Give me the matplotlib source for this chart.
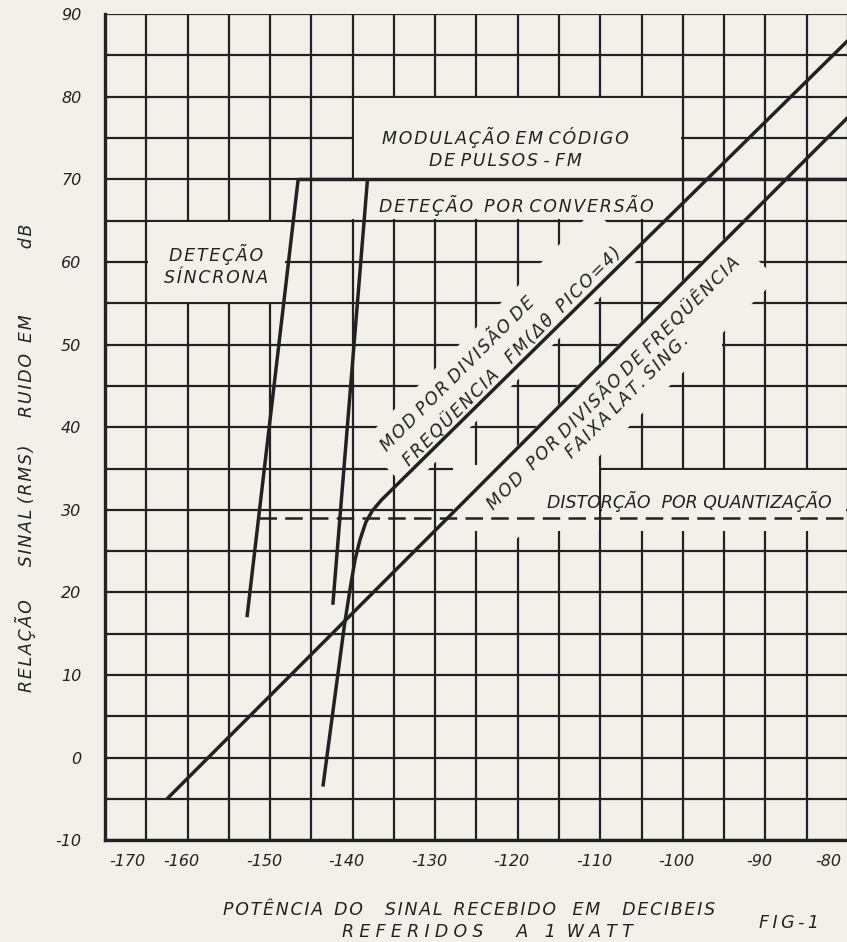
import matplotlib
matplotlib.use("Agg")
import matplotlib.pyplot as plt
import matplotlib.transforms as mtransforms
from matplotlib.patches import Rectangle
import numpy as np

# ---- data (dB) ----
x_ticks = [-170, -160, -150, -140, -130, -120, -110, -100, -90, -80]
x_labels = ['-170', '-160', '-150', '-140', '-130', '-120', '-110', '-100', '-90', '-80']
y_ticks = [-10, 0, 10, 20, 30, 40, 50, 60, 70, 80, 90]
y_labels = ['-10', '0', '10', '20', '30', '40', '50', '60', '70', '80', '90']

# detecao sincrona
sinc_x = [-152.8, -146.6]
sinc_y = [17.0, 70.0]
# detecao por conversao
conv_x = [-142.4, -138.2]
conv_y = [18.5, 70.0]
# limite PCM-FM (70 dB)
pcm_x = [-146.6, -80.0]
pcm_y = [70.0, 70.0]
# mod por divisao de frequencia FM (delta theta pico = 4)
fm_x = [-143.6, -141.0, -140.3, -139.7, -139.1, -138.4, -137.6, -136.5, -80.0]
fm_y = [-3.5, 16.0, 20.5, 24.0, 26.4, 28.5, 29.9, 31.2, 86.8]
# mod por divisao de frequencia faixa lat. sing.
ssb_x = [-162.5, -80.0]
ssb_y = [-5.0, 77.5]
# distorcao por quantizacao
quant_x = [-151.4, -80.0]
quant_y = [29.0, 29.0]

paper = '#f2f0e9'
ink = '#222222'

plt.rcParams['font.family'] = ['DejaVu Sans']
plt.rcParams['font.style'] = 'italic'


def spaced(s, sep='\u200a'):
    # letter spacing of the hand lettering (inside words only)
    return '\n'.join(' '.join(sep.join(w) for w in line.split(' '))
                     for line in s.split('\n'))


fig = plt.figure(figsize=(8.47, 9.42), dpi=100, facecolor=paper)
ax = fig.add_axes([0.124, 0.108, 0.877, 0.877])
ax.set_facecolor(paper)
ax.set_xlim(-170, -80)
ax.set_ylim(-10, 90)

# grid every 5 dB
ax.set_xticks(x_ticks)
ax.set_xticklabels(x_labels)
ax.set_yticks(y_ticks)
ax.set_yticklabels(y_labels)
ax.set_xticks(np.arange(-170, -79, 5), minor=True)
ax.set_yticks(np.arange(-10, 91, 5), minor=True)
ax.grid(which='both', color=ink, linewidth=1.6)
ax.set_axisbelow(True)
ax.tick_params(which='both', length=0)
ax.tick_params(axis='y', pad=17, labelsize=11.5, colors=ink)
ax.tick_params(axis='x', pad=10, labelsize=11.5, colors=ink)
for s in ['left', 'bottom']:
    ax.spines[s].set_linewidth(2.4)
    ax.spines[s].set_color(ink)
for s in ['top', 'right']:
    ax.spines[s].set_visible(False)

# shift the end labels inward like the drawing
offs = {0: 22, 9: -20}
for i, lab in enumerate(ax.get_xticklabels()):
    dx = offs.get(i, -6)
    lab.set_transform(lab.get_transform() +
                      mtransforms.ScaledTranslation(dx / 100, 0, fig.dpi_scale_trans))


# grid erased by the draftsman around the lettering
def erase(x0, x1, y0, y1, inset=0.2):
    ax.add_patch(Rectangle((x0 + inset, y0 + inset), x1 - x0 - 2 * inset,
                           y1 - y0 - 2 * inset, fc=paper, ec='none', zorder=1))


erase(-140, -100, 70, 80)
erase(-145, -100, 65, 70)
erase(-165, -148, 55, 65)
erase(-128, -110, 27.2, 35.6)
erase(-110, -80, 27.2, 35)
erase(-100, -95, 49, 60)

# curves
kw = dict(color=ink, linewidth=2.5, solid_capstyle='butt', zorder=5)
ax.plot(sinc_x, sinc_y, **kw)
ax.plot(conv_x, conv_y, **kw)
ax.plot(pcm_x, pcm_y, **kw)
ax.plot(fm_x, fm_y, **kw)
ax.plot(ssb_x, ssb_y, **kw)
ax.plot(quant_x, quant_y, color=ink, linewidth=1.8, dashes=(7, 3.3), zorder=5)


def lbl(x, y, s, rot=0, pad=None, sep='\u200a', z=4, **k):
    bb = None
    if pad is not None:
        bb = dict(boxstyle='square,pad=%.2f' % pad, fc=paper, ec='none')
    ax.text(x, y, spaced(s, sep), rotation=rot, rotation_mode='anchor',
            ha='center', va='center', fontsize=12.5, color=ink, zorder=z,
            bbox=bb, **k)


lbl(-122.0, 49.4, 'MOD POR DIVISÃO DE\n FREQÜENCIA   FM(\u0394\u03b8  PICO=4)', rot=45,
    pad=0.65, linespacing=1.55, multialignment='left')
lbl(-107.6, 44.6, 'MOD  POR DIVISÃO DE FREQÜÊNCIA\nFAIXA LAT. SING.', rot=45,
    pad=0.8, linespacing=1.05, multialignment='center')
lbl(-121.5, 73.7, 'MODULAÇÃO EM CÓDIGO\nDE PULSOS - FM', linespacing=1.3)
lbl(-120.2, 66.8, 'DETEÇÃO  POR CONVERSÃO')
lbl(-156.6, 59.6, 'DETEÇÃO\nSÍNCRONA', linespacing=1.3)
lbl(-99.2, 31.0, 'DISTORÇÃO  POR QUANTIZAÇÃO', sep='', z=4.5)

# axis titles
fig.text(0.030, 0.514,
         spaced('RELAÇÃO      SINAL (RMS)     RUIDO  EM            dB', '\u200a'),
         rotation=90, ha='center', va='center', fontsize=12.5, color=ink)
fig.text(469 / 847, 1 - 910 / 942,
         spaced('POTÊNCIA  DO    SINAL  RECEBIDO   EM    DECIBEIS', '\u200a'),
         ha='center', va='center', fontsize=12.5, color=ink)
fig.text(487 / 847, 1 - 932 / 942, spaced('REFERIDOS      A   1  WATT', '\u2009\u200a'),
         ha='center', va='center', fontsize=12.5, color=ink)
fig.text(789 / 847, 1 - 923 / 942, spaced('FIG-1', '\u2009'), ha='center', va='center',
         fontsize=12.5, color=ink)

fig.savefig('out.png', dpi=100, facecolor=paper)
